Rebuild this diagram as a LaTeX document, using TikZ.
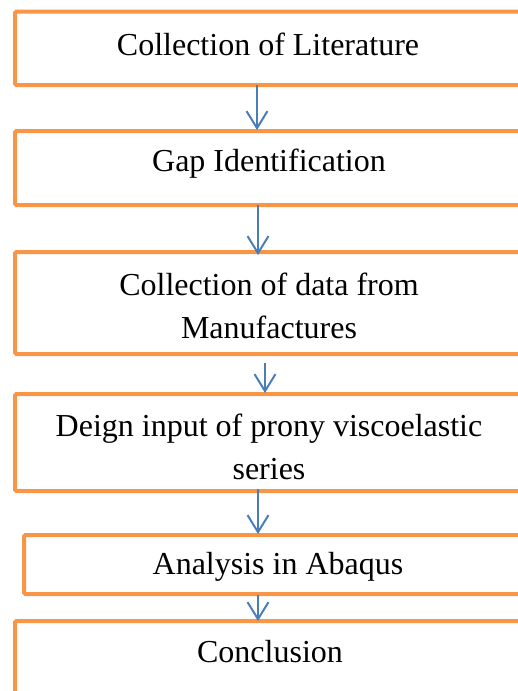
\documentclass[tikz,border=0pt]{standalone}
\usepackage{fontspec}
\setmainfont{Liberation Serif}
\usetikzlibrary{arrows.meta}
\definecolor{boxorange}{HTML}{F79646}
\definecolor{arrblue}{HTML}{4A7EBB}
\tikzset{
  flowbox/.style={draw=boxorange, line width=4pt, rounded corners=1.5pt, rectangle, inner sep=0pt, anchor=north west},
  flowtxt/.style={font=\fontsize{32pt}{43pt}\selectfont, align=center, inner sep=0pt, text=black},
  flowarr/.style={draw=arrblue, line width=2pt, -{Straight Barb[length=17pt, width=21pt, line width=2pt]}}
}
\begin{document}
\begin{tikzpicture}[x=1pt, y=-1pt]
\useasboundingbox (0,0) rectangle (518,691);
\clip (0,0) rectangle (518,691);
% boxes
\node[flowbox, minimum width=512pt, minimum height=73.5pt] (b1) at (13,9.5) {};
\node[flowbox, minimum width=512pt, minimum height=74pt] (b2) at (13,129) {};
\node[flowbox, minimum width=512pt, minimum height=102pt] (b3) at (13,250) {};
\node[flowbox, minimum width=512pt, minimum height=97pt] (b4) at (13,392) {};
\node[flowbox, minimum width=512pt, minimum height=59pt] (b5) at (22,533) {};
\node[flowbox, minimum width=512pt, minimum height=74pt] (b6) at (13,619) {};
% texts
\node[flowtxt] (t1) at (268,44) {Collection of Literature};
\node[flowtxt] (t2) at (269,164) {Gap Identification};
\node[flowtxt] (t3) at (269,306) {Collection of data from\\Manufactures};
\node[flowtxt] (t4) at (269,447) {Deign input of prony viscoelastic\\series};
\node[flowtxt] (t5) at (278,567) {Analysis in Abaqus};
\node[flowtxt] (t6) at (270,652) {Conclusion};
% arrow columns
\coordinate (c1) at (257,0);
\coordinate (c2) at (258,0);
\coordinate (c3) at (265,0);
% arrows
\draw[flowarr] ([yshift=2pt]b1.south -| c1) -- ([yshift=-1pt]b2.north -| c1);
\draw[flowarr] ([yshift=2pt]b2.south -| c2) -- ([yshift=-5pt]b3.north -| c2);
\draw[flowarr] ([yshift=-7pt]b3.south -| c3) -- ([yshift=-1pt]b4.north -| c3);
\draw[flowarr] ([yshift=4pt]b4.south -| c2) -- ([yshift=-1pt]b5.north -| c2);
\draw[flowarr] ([yshift=1pt]b5.south -| c2) -- ([yshift=-2pt]b6.north -| c2);
\end{tikzpicture}
\end{document}
